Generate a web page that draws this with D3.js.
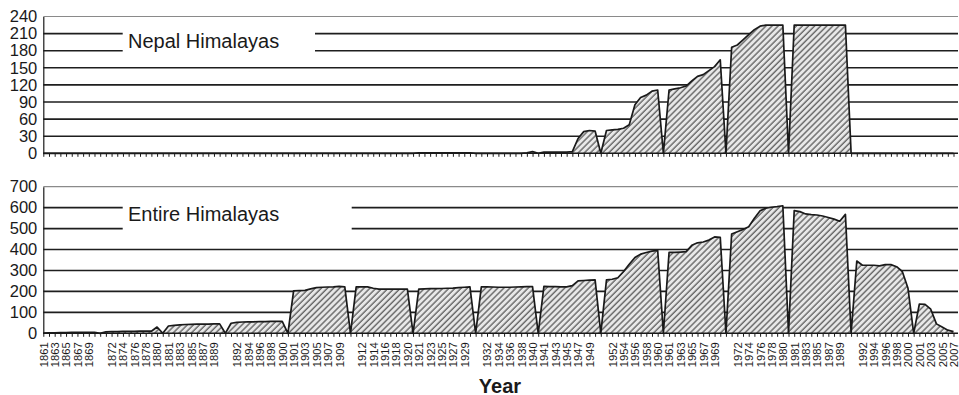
<!DOCTYPE html>
<html>
<head>
<meta charset="utf-8">
<script src="https://cdn.jsdelivr.net/npm/d3@7"></script>
<style>
  html, body { margin: 0; padding: 0; background: #fff; }
  svg { display: block; font-family: "Liberation Sans", Arial, sans-serif; }
</style>
</head>
<body>
<svg id="chart" width="959" height="395"></svg>
<script>
// Categories: each decade followed by an empty separator category
const categories = [
  "1861","1862","1863","1864","1865","1866","1867","1868","1869","1870","",
  "1871","1872","1873","1874","1875","1876","1877","1878","1879","1880","",
  "1881","1882","1883","1884","1885","1886","1887","1888","1889","1890","",
  "1891","1892","1893","1894","1895","1896","1897","1898","1899","1900","",
  "1901","1902","1903","1904","1905","1906","1907","1908","1909","1910","",
  "1911","1912","1913","1914","1915","1916","1917","1918","1919","1920","",
  "1921","1922","1923","1924","1925","1926","1927","1928","1929","1930","",
  "1931","1932","1933","1934","1935","1936","1937","1938","1939","1940","",
  "1941","1942","1943","1944","1945","1946","1947","1948","1949","1950","",
  "1951","1952","1953","1954","1955","1956","1957","1958","1959","1960","",
  "1961","1962","1963","1964","1965","1966","1967","1968","1969","1970","",
  "1971","1972","1973","1974","1975","1976","1977","1978","1979","1980","",
  "1981","1982","1983","1984","1985","1986","1987","1988","1989","1990","",
  "1991","1992","1993","1994","1995","1996","1997","1998","1999","2000","",
  "2001","2002","2003","2004","2005","2006","2007"
];

const nepalValues = [
  0,0,0,0,0,0,0,0,0,0, 0,
  0,0,0,0,0,0,0,0,0,0, 0,
  0,0,0,0,0,0,0,0,0,0, 0,
  0,0,0,0,0,0,0,0,0,0, 0,
  0,0,0,0,0,0,0,0,0,0, 0,
  0,0,0,0,0,0,0,0,0,0, 0,
  1,1,1,1,1,1,1,1,1,1, 0,
  0,0,0,0,0,0,0,0,1,3, 0,
  2,2,2,2,2,3,26,38,40,39, 0,
  40,41,42,44,50,85,98,102,109,111, 0,
  111,113,115,118,127,135,138,145,152,164, 0,
  186,190,199,208,217,223,225,225,225,225, 0,
  225,225,225,225,225,225,225,225,225,225, 0,
  0,0,0,0,0,0,0,0,0,0, 0,
  0,0,0,0,0,0,0
];

const entireValues = [
  1,2,2,3,3,4,5,5,5,4, 0,
  7,8,8,9,9,9,10,10,10,30, 0,
  35,38,40,42,43,44,44,44,45,45, 0,
  48,52,54,55,55,56,56,57,57,57, 0,
  203,204,205,212,218,220,221,222,224,222, 0,
  222,222,222,215,211,211,211,211,211,211, 0,
  211,212,213,213,214,215,216,218,220,222, 0,
  222,222,221,220,220,220,221,222,223,223, 0,
  224,223,223,222,222,228,250,252,254,255, 0,
  255,258,265,295,330,362,378,386,392,396, 0,
  386,386,388,390,420,432,436,445,460,458, 0,
  474,485,496,509,549,585,597,602,605,609, 0,
  586,581,570,567,565,560,553,545,535,568, 0,
  345,325,325,325,322,328,328,318,295,215, 0,
  140,138,115,45,30,15,8
];

const nepalTicks = [0,30,60,90,120,150,180,210,240];
const entireTicks = [0,100,200,300,400,500,600,700];
const panelTitles = ["Nepal Himalayas", "Entire Himalayas"];
const axisTitle = "Year";

const svg = d3.select("#chart");

// hatch pattern
const defs = svg.append("defs");
const pat = defs.append("pattern")
  .attr("id", "hatch")
  .attr("patternUnits", "userSpaceOnUse")
  .attr("width", 4.3).attr("height", 4.3)
  .attr("patternTransform", "rotate(45)");
pat.append("rect").attr("width", 4.3).attr("height", 4.3).attr("fill", "#e8e8e8");
pat.append("line").attr("x1", 1).attr("y1", 0).attr("x2", 1).attr("y2", 4.3)
  .attr("stroke", "#666").attr("stroke-width", 1.4);

const x = d3.scaleLinear().domain([0, categories.length - 1]).range([43.3, 953.5]);
const plotRight = 958;

const panels = [
  { values: nepalValues, ticks: nepalTicks, max: 240, top: 16.5, bottom: 153.3,
    title: panelTitles[0], box: [122.7, 315], textY: 47.7, labels: false },
  { values: entireValues, ticks: entireTicks, max: 700, top: 186.7, bottom: 333.3,
    title: panelTitles[1], box: [122.7, 351.7], textY: 221, labels: true }
];

panels.forEach(p => {
  const y = d3.scaleLinear().domain([0, p.max]).range([p.bottom, p.top]);
  const g = svg.append("g");

  // gridlines
  g.append("g").selectAll("line")
    .data(p.ticks.filter(t => t > 0))
    .join("line")
    .attr("x1", x.range()[0]).attr("x2", plotRight)
    .attr("y1", d => y(d)).attr("y2", d => y(d))
    .attr("stroke", d => d === p.max ? "#8a8a8a" : "#1e1e1e")
    .attr("stroke-width", d => d === p.max ? 1.2 : 1.6);

  // title box
  g.append("rect")
    .attr("x", p.box[0]).attr("width", p.box[1] - p.box[0])
    .attr("y", p.textY - 22).attr("height", 32)
    .attr("fill", "#fff");
  g.append("text")
    .attr("x", 128).attr("y", p.textY)
    .attr("font-size", 20).attr("fill", "#1a1a1a")
    .text(p.title);

  // area
  const area = d3.area()
    .x((d, i) => x(i))
    .y0(y(0))
    .y1(d => y(d));
  const line = d3.line()
    .x((d, i) => x(i))
    .y(d => y(d));
  g.append("path").datum(p.values)
    .attr("d", area)
    .attr("fill", "url(#hatch)");
  g.append("path").datum(p.values)
    .attr("d", line)
    .attr("fill", "none")
    .attr("stroke", "#1a1a1a")
    .attr("stroke-width", 1.7)
    .attr("stroke-linejoin", "round");

  // y axis
  const yAxis = d3.axisLeft(y).tickValues(p.ticks).tickSize(0).tickPadding(6);
  const ya = g.append("g").attr("transform", `translate(${x.range()[0]},0)`).call(yAxis);
  ya.select(".domain").attr("stroke", "#1a1a1a").attr("stroke-width", 1.2);
  ya.selectAll("text").attr("font-size", 16.5).attr("fill", "#1a1a1a")
    .attr("font-family", "'Liberation Sans', Arial, sans-serif");

  // x axis
  const xAxis = d3.axisBottom(x)
    .tickValues(d3.range(categories.length))
    .tickFormat(i => (p.labels && i % 2 === 0) ? categories[i] : "")
    .tickSize(3.5).tickSizeOuter(0);
  const xa = g.append("g").attr("transform", `translate(0,${y(0)})`).call(xAxis);
  xa.select(".domain").attr("stroke", "#1a1a1a").attr("stroke-width", 1.6)
    .attr("d", `M${x.range()[0]},0H${plotRight}`);
  xa.selectAll(".tick line").attr("stroke", "#1a1a1a").attr("stroke-width", 1);
  xa.selectAll("text")
    .attr("font-size", 11.2).attr("fill", "#1a1a1a")
    .attr("font-family", "'Liberation Sans', Arial, sans-serif")
    .attr("text-anchor", "end")
    .attr("transform", "rotate(-90)")
    .attr("x", -9).attr("y", 0).attr("dy", "0.35em");
});

svg.append("text")
  .attr("x", 500)
  .attr("y", 392.5)
  .attr("text-anchor", "middle")
  .attr("font-size", 20).attr("font-weight", "bold").attr("fill", "#1a1a1a")
  .text(axisTitle);
</script>
</body>
</html>
